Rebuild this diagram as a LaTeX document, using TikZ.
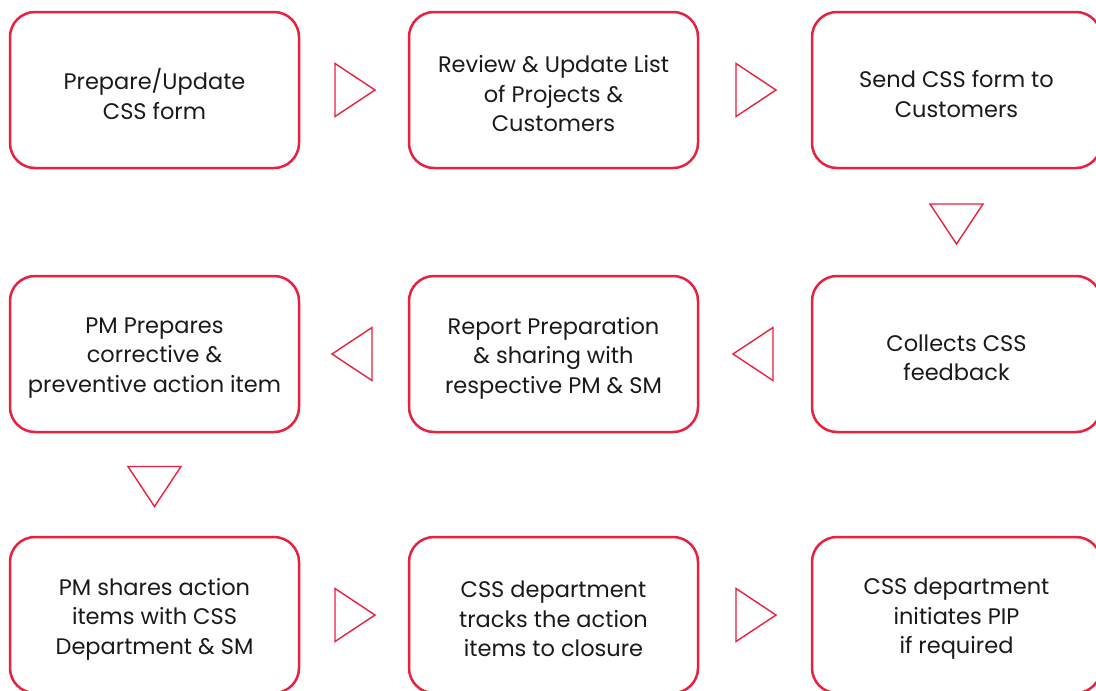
\documentclass[tikz,border=0pt]{standalone}
\usepackage{fontspec}
\setmainfont{Poppins}
\usetikzlibrary{calc}
\definecolor{cred}{HTML}{E8213F}
\definecolor{ctext}{HTML}{1A1A1A}
\begin{document}
\begin{tikzpicture}[x=1pt,y=-1pt,
  box/.style={draw=cred, line width=2.5pt, rounded corners=25pt,
    minimum width=289pt, minimum height=156pt, inner sep=0pt},
  txt/.style={align=center, font=\fontsize{22.5}{29.5}\selectfont, text=ctext, inner sep=0pt},
  tri/.style={draw=cred, line width=1.4pt, line join=miter}]
\useasboundingbox (0,0) rectangle (1096,691);
\node[box] (b1) at (154.5,90) {};
\node[box] (b2) at (553.5,90) {};
\node[box] (b3) at (956.5,90) {};
\node[box] (b4) at (154.5,354) {};
\node[box] (b5) at (553.5,354) {};
\node[box] (b6) at (956.5,354) {};
\node[box] (b7) at (154.5,615) {};
\node[box] (b8) at (553.5,615) {};
\node[box] (b9) at (956.5,615) {};
\node[txt] (t1) at ($(b1)+(0,4)$) {Prepare/Update\\CSS form};
\node[txt] (t2) at ($(b2)+(0,4)$) {Review \& Update List\\of Projects \&\\Customers};
\node[txt] (t3) at ($(b3)+(0,4)$) {Send CSS form to\\Customers};
\node[txt] (t4) at ($(b4)+(0,4)$) {PM Prepares\\corrective \&\\preventive action item};
\node[txt] (t5) at ($(b5)+(0,4)$) {Report Preparation\\\& sharing with\\respective PM \& SM};
\node[txt] (t6) at ($(b6)+(0,4)$) {Collects CSS\\feedback};
\node[txt] (t7) at ($(b7)+(0,4)$) {PM shares action\\items with CSS\\Department \& SM};
\node[txt] (t8) at ($(b8)+(0,4)$) {CSS department\\tracks the action\\items to closure};
\node[txt] (t9) at ($(b9)+(0,4)$) {CSS department\\initiates PIP\\if required};
% right-pointing
\coordinate (m12) at ($(b1.east)!0.5!(b2.west)$);
\coordinate (m23) at ($(b2.east)!0.5!(b3.west)$);
\coordinate (m78) at ($(b7.east)!0.5!(b8.west)$);
\coordinate (m89) at ($(b8.east)!0.5!(b9.west)$);
\foreach \m in {m12,m23,m78,m89}
  \draw[tri] ($(\m)+(-19,-26.5)$) -- ($(\m)+(21,0)$) -- ($(\m)+(-19,26.5)$) -- cycle;
% left-pointing
\coordinate (m65) at ($(b5.east)!0.5!(b6.west)$);
\coordinate (m54) at ($(b4.east)!0.5!(b5.west)$);
\foreach \m in {m65,m54}
  \draw[tri] ($(\m)+(18,-26.5)$) -- ($(\m)+(-22,0)$) -- ($(\m)+(18,26.5)$) -- cycle;
% down-pointing
\coordinate (m36) at ($(b3.south)!0.5!(b6.north)$);
\coordinate (m47) at ($(b4.south)!0.5!(b7.north)$);
\foreach \m in {m36,m47}
  \draw[tri] ($(\m)+(-26.5,-18)$) -- ($(\m)+(0,22)$) -- ($(\m)+(26.5,-18)$) -- cycle;
\end{tikzpicture}
\end{document}
